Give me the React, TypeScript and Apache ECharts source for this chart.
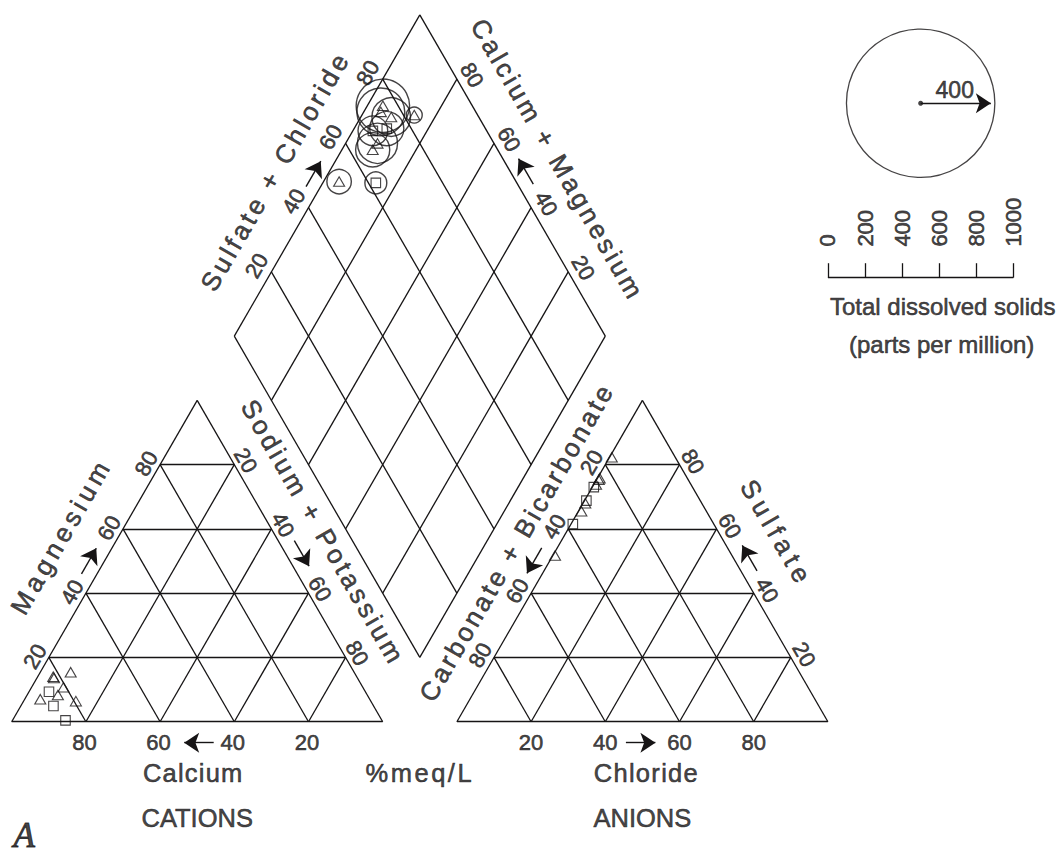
import React, { useEffect, useRef } from "react";
import * as echarts from "echarts";

// ---------------- DATA (percent of total milliequivalents per litre) ----------------
const SAMPLE_MARKERS = ["triangle", "rect", "triangle", "rect", "rect", "triangle", "triangle", "triangle", "triangle", "triangle"];
const CALCIUM = [79.5, 85.3, 88.8, 85.3, 86.3, 81.8, 81.8, 76.4, 80.7, 83.4];
const MAGNESIUM = [6.4, 0.4, 7.0, 9.3, 4.9, 14.0, 13.6, 15.4, 10.7, 8.3];
const SODIUM_POTASSIUM = [14.1, 14.3, 4.2, 5.4, 8.8, 4.2, 4.6, 8.2, 8.6, 8.3];
const CARBONATE_BICARBONATE = [17.1, 38.0, 47.7, 30.7, 26.6, 24.1, 25.6, 23.6, 31.4, 33.7];
const SULFATE = [82.3, 61.5, 51.7, 68.8, 73.0, 75.3, 73.8, 75.8, 68.0, 65.5];
const CHLORIDE = [0.6, 0.5, 0.6, 0.5, 0.4, 0.6, 0.6, 0.6, 0.6, 0.8];
const TDS_PPM = [43, 59, 66, 80, 92, 144, 129, 104, 108, 92];

const GRID_TICKS = [20, 40, 60, 80];
const TDS_SCALE_TICKS = [0, 200, 400, 600, 800, 1000];
const TDS_LEGEND_VALUE = 400;

// ---------------- LAYOUT ----------------
const W = 1057;
const HGT = 855;
const S = 3.71; // px per diagram unit (triangle side = 100 units)
const ORIGIN_PX = [11.7, 721.7];
const INK = "#161415";
const SANS = "'Liberation Sans', Arial, Helvetica, sans-serif";
const SERIF = "'Liberation Serif', 'Times New Roman', serif";
const H = Math.sqrt(3) / 2;
const TRI_GAP = 20;
const ANION_X0 = 100 + TRI_GAP;
const DIAMOND_X = 100 + TRI_GAP / 2;
const DIAMOND_Y0 = TRI_GAP * H;
const RADIUS_UNITS_PER_PPM = 0.05;
const LEGEND_CENTER = [245, 166.7];
const SCALE_BAR_Y = 119.7;
const SCALE_BAR_X0 = 220;
const TICK_FONT = 22;
const TITLE_FONT = 26;
const HTITLE_FONT = 25.5;
const TEXT_WEIGHT = 0.6;

const SPACING: Record<string, number> = {
  Magnesium: 4.6,
  "Sodium + Potassium": 3.5,
  "Carbonate + Bicarbonate": 3.2,
  Sulfate: 5.5,
  "Sulfate + Chloride": 3.6,
  "Calcium + Magnesium": 3.3,
  Calcium: 1.2,
  Chloride: 1.3,
  "%meq/L": 2.5,
};

type P = number[];
const cation = (mg: number, na: number): P => [na + mg / 2, mg * H];
const anion = (so4: number, cl: number): P => [ANION_X0 + cl + so4 / 2, so4 * H];
const diamond = (a: number, c: number): P => [DIAMOND_X + (a - c) / 2, DIAMOND_Y0 + (a + c) * H];

const UR = [0.5, H];
const DR = [0.5, -H];
const NL = [-H, 0.5];
const NR = [H, 0.5];
const DOWN = [0, -1];
const RIGHT = [1, 0];
const shift = (p: P, n: P, nPx: number, a: P, aPx: number): P => [
  p[0] + (n[0] * nPx + a[0] * aPx) / S,
  p[1] + (n[1] * nPx + a[1] * aPx) / S,
];

const EDGES = [
  { point: (t: number) => cation(t, 0), normal: NL, along: UR, labelN: 12.5, labelA: -6, rot: 60, arrowN: 13.5, arrowA: -6, dir: UR, title: "Magnesium", titleN: 50, titleA: 0, tsize: TITLE_FONT },
  { point: (t: number) => cation(0, 100 - t), normal: DOWN, along: RIGHT, labelN: 21, labelA: -1.5, rot: 0, arrowN: 21, arrowA: 0, dir: [-1, 0], title: "Calcium", titleN: 51, titleA: -4, tsize: HTITLE_FONT },
  { point: (t: number) => cation(100 - t, t), normal: NR, along: DR, labelN: 12, labelA: 2, rot: -60, arrowN: 14, arrowA: 1, dir: DR, title: "Sodium + Potassium", titleN: 43, titleA: -8, tsize: TITLE_FONT },
  { point: (t: number) => anion(100 - t, 0), normal: NL, along: UR, labelN: 13, labelA: -5, rot: 60, arrowN: 13.5, arrowA: -9, dir: [-0.5, -H], title: "Carbonate + Bicarbonate", titleN: 38, titleA: 0, tsize: TITLE_FONT },
  { point: (t: number) => anion(0, t), normal: DOWN, along: RIGHT, labelN: 21, labelA: 0, rot: 0, arrowN: 21, arrowA: 0, dir: [1, 0], title: "Chloride", titleN: 51, titleA: 4, tsize: HTITLE_FONT },
  { point: (t: number) => anion(t, 100 - t), normal: NR, along: DR, labelN: 13, labelA: 4, rot: -60, arrowN: 14, arrowA: 3, dir: [-0.5, H], title: "Sulfate", titleN: 50, titleA: -3, tsize: TITLE_FONT },
  { point: (t: number) => diamond(t, 100), normal: NL, along: UR, labelN: 16, labelA: -2, rot: 60, arrowN: 12.6, arrowA: -3.7, dir: UR, title: "Sulfate + Chloride", titleN: 47, titleA: -22, tsize: TITLE_FONT },
  { point: (t: number) => diamond(100, t), normal: NR, along: DR, labelN: 15, labelA: 4, rot: -60, arrowN: 13.6, arrowA: 1.4, dir: [-0.5, H], title: "Calcium + Magnesium", titleN: 47, titleA: 9, tsize: TITLE_FONT },
];

function txt(pos: P, text: string, o: any = {}) {
  return {
    value: pos,
    label: {
      show: true,
      position: "inside",
      formatter: text,
      rotate: o.rotate || 0,
      fontSize: o.size || TICK_FONT,
      fontFamily: o.family || SANS,
      fontStyle: o.style || "normal",
      fontWeight: "normal",
      color: INK,
      textBorderColor: INK,
      textBorderWidth: o.border != null ? o.border : TEXT_WEIGHT,
      align: o.align || "center",
      verticalAlign: "middle",
    },
  };
}

function buildOption() {
  const idx = SAMPLE_MARKERS.map((_, i) => i);
  const segs: any[] = [];
  const seg = (p: P, q: P) => segs.push({ coords: [p, q] });
  const poly = (pts: P[]) => pts.forEach((p, i) => seg(p, pts[(i + 1) % pts.length]));
  poly([cation(0, 0), cation(0, 100), cation(100, 0)]);
  poly([anion(0, 0), anion(0, 100), anion(100, 0)]);
  poly([diamond(0, 0), diamond(100, 0), diamond(100, 100), diamond(0, 100)]);
  GRID_TICKS.forEach((t) => {
    seg(cation(t, 0), cation(t, 100 - t));
    seg(cation(0, t), cation(100 - t, t));
    seg(cation(0, 100 - t), cation(100 - t, 0));
    seg(anion(t, 0), anion(t, 100 - t));
    seg(anion(0, t), anion(100 - t, t));
    seg(anion(0, 100 - t), anion(100 - t, 0));
    seg(diamond(t, 0), diamond(t, 100));
    seg(diamond(0, t), diamond(100, t));
  });
  const barEnd = SCALE_BAR_X0 + TDS_SCALE_TICKS[TDS_SCALE_TICKS.length - 1] * RADIUS_UNITS_PER_PPM;
  seg([SCALE_BAR_X0, SCALE_BAR_Y], [barEnd, SCALE_BAR_Y]);
  TDS_SCALE_TICKS.forEach((v) => {
    const x = SCALE_BAR_X0 + v * RADIUS_UNITS_PER_PPM;
    seg([x, SCALE_BAR_Y], [x, SCALE_BAR_Y + 14.4 / S]);
  });

  const ARROW_BACK = 16.5;
  const ARROW_FWD = 13;
  const HEAD = 15;
  const arrows: any[] = [];
  const texts: any[] = [];
  EDGES.forEach((e) => {
    const c = shift(e.point(50), e.normal, e.arrowN, e.along, e.arrowA);
    arrows.push({
      coords: [
        [c[0] - (e.dir[0] * ARROW_BACK) / S, c[1] - (e.dir[1] * ARROW_BACK) / S],
        [c[0] + (e.dir[0] * ARROW_FWD) / S, c[1] + (e.dir[1] * ARROW_FWD) / S],
      ],
    });
    GRID_TICKS.forEach((t) => {
      texts.push(txt(shift(e.point(t), e.normal, e.labelN, e.along, e.labelA), String(t), { rotate: e.rot }));
    });
    texts.push(txt(shift(e.point(50), e.normal, e.titleN, e.along, e.titleA), e.title, { rotate: e.rot, size: e.tsize }));
  });
  const legendR = TDS_LEGEND_VALUE * RADIUS_UNITS_PER_PPM;
  arrows.push({ coords: [LEGEND_CENTER, [LEGEND_CENTER[0] + legendR - 4 / S, LEGEND_CENTER[1]]] });

  texts.push(txt(shift([DIAMOND_X, 0], DOWN, 51, RIGHT, 0), "%meq/L", { size: HTITLE_FONT }));
  texts.push(txt(shift(cation(0, 50), DOWN, 96, RIGHT, 0), "CATIONS", { size: HTITLE_FONT }));
  texts.push(txt(shift(anion(0, 50), DOWN, 96, RIGHT, 0), "ANIONS", { size: HTITLE_FONT }));
  texts.push(txt(shift(cation(0, 0), DOWN, 114, RIGHT, 12.5), "A", { size: 35, family: SERIF, style: "italic", border: 1 }));
  texts.push(txt([LEGEND_CENTER[0] + legendR / 2 - 3 / S, LEGEND_CENTER[1] + 13 / S], String(TDS_LEGEND_VALUE), { size: 23 }));
  TDS_SCALE_TICKS.forEach((v) => {
    texts.push(txt([SCALE_BAR_X0 + v * RADIUS_UNITS_PER_PPM, SCALE_BAR_Y + 31 / S], String(v), { rotate: 90, align: "left", size: TICK_FONT }));
  });
  const barMid = (SCALE_BAR_X0 + barEnd) / 2;
  texts.push(txt([barMid + 22 / S, SCALE_BAR_Y - 29 / S], "Total dissolved solids", { size: 24 }));
  texts.push(txt([barMid + 21 / S, SCALE_BAR_Y - 67 / S], "(parts per million)", { size: 24 }));

  const hollow = { color: "rgba(0,0,0,0)", borderColor: INK, borderWidth: 1.1 };
  const markerSize = (m: string) => (m === "rect" ? [9.5, 9.5] : [11, 9.5]);
  const markerData = (pos: (i: number) => P) =>
    idx.map((i) => ({ value: pos(i), symbol: SAMPLE_MARKERS[i], symbolSize: markerSize(SAMPLE_MARKERS[i]) }));
  const diamondPos = (i: number) => diamond(SULFATE[i] + CHLORIDE[i], CALCIUM[i] + MAGNESIUM[i]);

  return {
    animation: false,
    backgroundColor: "#ffffff",
    grid: { left: 0, right: 0, top: 0, bottom: 0 },
    xAxis: { type: "value", min: -ORIGIN_PX[0] / S, max: (W - ORIGIN_PX[0]) / S, show: false },
    yAxis: { type: "value", min: -(HGT - ORIGIN_PX[1]) / S, max: ORIGIN_PX[1] / S, show: false },
    series: [
      {
        type: "lines",
        coordinateSystem: "cartesian2d",
        silent: true,
        z: 2,
        lineStyle: { color: INK, width: 1.3, opacity: 1 },
        data: segs,
      },
      {
        type: "lines",
        coordinateSystem: "cartesian2d",
        silent: true,
        z: 2,
        symbol: ["none", "arrow"],
        symbolSize: HEAD,
        lineStyle: { color: INK, width: 1.4, opacity: 1 },
        data: arrows,
      },
      { type: "scatter", silent: true, z: 3, itemStyle: hollow, data: markerData((i) => cation(MAGNESIUM[i], SODIUM_POTASSIUM[i])) },
      { type: "scatter", silent: true, z: 3, itemStyle: hollow, data: markerData((i) => anion(SULFATE[i], CHLORIDE[i])) },
      { type: "scatter", silent: true, z: 3, itemStyle: hollow, data: markerData(diamondPos) },
      {
        type: "scatter",
        silent: true,
        z: 3,
        symbol: "circle",
        itemStyle: { color: "rgba(0,0,0,0)", borderColor: INK, borderWidth: 1.4 },
        data: idx.map((i) => ({ value: diamondPos(i), symbolSize: 2 * TDS_PPM[i] * RADIUS_UNITS_PER_PPM * S })),
      },
      {
        type: "scatter",
        silent: true,
        z: 3,
        symbol: "circle",
        itemStyle: { color: "rgba(0,0,0,0)", borderColor: INK, borderWidth: 1.3 },
        data: [{ value: LEGEND_CENTER, symbolSize: 2 * legendR * S }],
      },
      { type: "scatter", silent: true, z: 3, symbol: "circle", symbolSize: 5, itemStyle: { color: INK }, data: [LEGEND_CENTER] },
      {
        type: "scatter",
        silent: true,
        z: 4,
        symbol: "circle",
        symbolSize: 1,
        itemStyle: { color: "rgba(0,0,0,0)" },
        data: texts,
      },
    ],
  };
}

export default function App() {
  const ref = useRef<HTMLDivElement>(null);
  useEffect(() => {
    const el = ref.current as HTMLDivElement;
    const chart = echarts.init(el, undefined, { renderer: "svg", width: W, height: HGT });
    chart.setOption(buildOption() as any);
    const applySpacing = () => {
      el.querySelectorAll("text").forEach((t) => {
        const s = SPACING[(t.textContent || "").trim()];
        if (s != null) t.setAttribute("letter-spacing", s + "px");
      });
    };
    applySpacing();
    chart.on("finished", applySpacing);
    const id = window.setTimeout(applySpacing, 30);
    return () => {
      window.clearTimeout(id);
      chart.dispose();
    };
  }, []);
  return <div ref={ref} style={{ position: "fixed", left: 0, top: 0, width: W, height: HGT, background: "#fff" }} />;
}
